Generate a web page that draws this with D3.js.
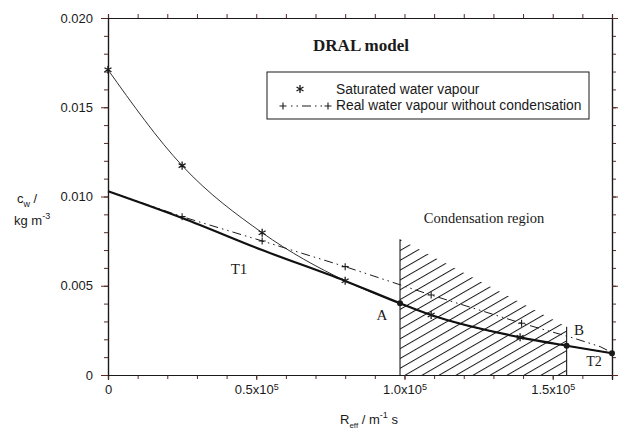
<!DOCTYPE html>
<html>
<head>
<meta charset="utf-8">
<script src="https://cdn.jsdelivr.net/npm/d3@7"></script>
<style>
	body { margin: 0; background: #fff; }
	text { fill: #1a1a1a; }
	.sans { font-family: "Liberation Sans", Arial, sans-serif; }
	.serif { font-family: "Liberation Serif", "Times New Roman", serif; }
</style>
</head>
<body>
<div id="chart"></div>
<script>
// values (x in units of 1e5 m^-1 s, y in kg m^-3)
var satX = [0, 0.25, 0.52, 0.80, 0.985, 1.09, 1.39, 1.547, 1.70];
var satY = [0.0171, 0.01173, 0.00797, 0.00528, 0.00402, 0.00336, 0.00211, 0.00164, 0.00122];
var satStars = [0, 1, 2, 3, 5, 6];      // asterisk markers
var satDots = [4, 7, 8];                // A, B and end point

var realX = [0, 0.25, 0.52, 0.80, 1.09, 1.395, 1.57, 1.66, 1.70];
var realY = [0.0103, 0.00887, 0.00751, 0.00607, 0.00448, 0.0029, 0.00207, 0.00159, 0.00125];
var realPlus = [1, 2, 3, 4, 5];

var thickX = [0, 0.25, 0.52, 0.80, 0.985, 1.09, 1.39, 1.547, 1.70];
var thickY = [0.0103, 0.0088, 0.0070, 0.00527, 0.00402, 0.00336, 0.00211, 0.00164, 0.00122];

var hatchX = [0.985, 1.547];
var hatchTop = [0.0076, 0.0027];

var xMajor = [0, 0.5, 1.0, 1.5];
var xTickLabels = ['0', '0.5x10', '1.0x10', '1.5x10'];
var xTickExp = ['', '5', '5', '5'];
var yMajor = [0, 0.005, 0.010, 0.015, 0.020];
var yTickLabels = ['0', '0.005', '0.010', '0.015', '0.020'];

var legendLabels = ['Saturated water vapour', 'Real water vapour without condensation'];

// Chart
var width = 623, height = 431;
var svg = d3.select('#chart').append('svg')
	.attr('width', width)
	.attr('height', height);

var x = d3.scaleLinear().domain([0, 1.70]).range([108, 612]);
var y = d3.scaleLinear().domain([0, 0.020]).range([375, 18]);

var ink = '#1a1a1a';
var tickInk = '#5a2a22';

// hatch pattern for condensation region
var defs = svg.append('defs');
defs.append('pattern')
	.attr('id', 'hatch')
	.attr('patternUnits', 'userSpaceOnUse')
	.attr('width', 10).attr('height', 8.5)
	.attr('patternTransform', 'rotate(-30)')
  .append('line')
	.attr('x1', 0).attr('x2', 10)
	.attr('y1', 0.5).attr('y2', 0.5)
	.attr('stroke', ink).attr('stroke-width', 1);

svg.append('path')
	.attr('d', 'M' + x(hatchX[0]) + ',' + y(0) + 'L' + x(hatchX[0]) + ',' + y(hatchTop[0]) +
		'L' + x(hatchX[1]) + ',' + y(hatchTop[1]) + 'L' + x(hatchX[1]) + ',' + y(0) + 'Z')
	.attr('fill', 'url(#hatch)');

hatchX.forEach(function(hx, i) {
	svg.append('line')
		.attr('x1', x(hx)).attr('x2', x(hx))
		.attr('y1', y(0)).attr('y2', y(hatchTop[i]))
		.attr('stroke', ink).attr('stroke-width', 1.1);
});

// axes, outward ticks on all four sides
function minor(lo, hi, step) {
	return d3.range(Math.round((hi - lo) / step) + 1).map(function(i) { return lo + i * step; });
}
var xMinor = minor(0, 1.7, 0.1);
var yMinor = minor(0, 0.020, 0.001);

function styleAxis(g) {
	g.select('.domain').attr('stroke', ink).attr('stroke-width', 1.2);
	g.selectAll('.tick line').attr('stroke', tickInk).attr('stroke-width', 1);
	g.selectAll('text').attr('class', 'sans').attr('font-size', 13).attr('fill', ink);
}

svg.append('g').attr('transform', 'translate(0,' + y(0) + ')')
	.call(d3.axisBottom(x).tickValues(xMinor).tickSize(4).tickFormat(''))
	.call(styleAxis);
var xAxis = svg.append('g').attr('transform', 'translate(0,' + y(0) + ')')
	.call(d3.axisBottom(x).tickValues(xMajor).tickSize(5).tickPadding(5)
		.tickFormat(function(d, i) { return xTickLabels[i]; }))
	.call(styleAxis);
xAxis.selectAll('.tick text').each(function(d, i) {
	if (xTickExp[i]) {
		d3.select(this).append('tspan')
			.attr('dy', '-0.45em')
			.attr('font-size', 9)
			.text(xTickExp[i]);
	}
});

svg.append('g').attr('transform', 'translate(0,' + y(0.020) + ')')
	.call(d3.axisTop(x).tickValues(xMinor).tickSize(4).tickFormat(''))
	.call(styleAxis);

svg.append('g').attr('transform', 'translate(' + x(0) + ',0)')
	.call(d3.axisLeft(y).tickValues(yMinor).tickSize(4).tickFormat(''))
	.call(styleAxis);
svg.append('g').attr('transform', 'translate(' + x(0) + ',0)')
	.call(d3.axisLeft(y).tickValues(yMajor).tickSize(7).tickPadding(8)
		.tickFormat(function(d, i) { return yTickLabels[i]; }))
	.call(styleAxis);

svg.append('g').attr('transform', 'translate(' + x(1.70) + ',0)')
	.call(d3.axisRight(y).tickValues(yMinor).tickSize(4).tickFormat(''))
	.call(styleAxis);
svg.append('g').attr('transform', 'translate(' + x(1.70) + ',0)')
	.call(d3.axisRight(y).tickValues(yMajor).tickSize(6).tickFormat(''))
	.call(styleAxis);

// lines
function zipped(xs, ys) {
	return xs.map(function(v, i) { return [v, ys[i]]; });
}
var lineLin = d3.line().x(function(d) { return x(d[0]); }).y(function(d) { return y(d[1]); });
var lineSmooth = d3.line().curve(d3.curveMonotoneX)
	.x(function(d) { return x(d[0]); }).y(function(d) { return y(d[1]); });

svg.append('path')
	.datum(zipped(realX, realY))
	.attr('d', lineLin)
	.attr('fill', 'none')
	.attr('stroke', ink)
	.attr('stroke-width', 1)
	.attr('stroke-dasharray', '1.5,4,1.5,4,9,4');

svg.append('path')
	.datum(zipped(satX, satY))
	.attr('d', lineSmooth)
	.attr('fill', 'none')
	.attr('stroke', '#333')
	.attr('stroke-width', 1);

svg.append('path')
	.datum(zipped(thickX, thickY))
	.attr('d', lineSmooth)
	.attr('fill', 'none')
	.attr('stroke', '#111')
	.attr('stroke-width', 2.2);

// markers
var star = d3.symbol().type(d3.symbolAsterisk).size(45);
var plus = d3.symbol().type(d3.symbolPlus).size(18);

svg.selectAll('.star')
	.data(satStars)
	.enter().append('path')
	  .attr('class', 'star')
	  .attr('d', star)
	  .attr('transform', function(i) { return 'translate(' + x(satX[i]) + ',' + y(satY[i]) + ')'; })
	  .attr('fill', 'none').attr('stroke', ink).attr('stroke-width', 1.3);

svg.selectAll('.dot')
	.data(satDots)
	.enter().append('circle')
	  .attr('class', 'dot')
	  .attr('cx', function(i) { return x(satX[i]); })
	  .attr('cy', function(i) { return y(satY[i]); })
	  .attr('r', 3)
	  .attr('fill', ink);

svg.selectAll('.plus')
	.data(realPlus)
	.enter().append('path')
	  .attr('class', 'plus')
	  .attr('d', plus)
	  .attr('transform', function(i) { return 'translate(' + x(realX[i]) + ',' + y(realY[i]) + ')'; })
	  .attr('fill', 'none').attr('stroke', ink).attr('stroke-width', 1.1);

// titles and annotations
svg.append('text').attr('class', 'serif')
	.attr('x', 361).attr('y', 51)
	.attr('text-anchor', 'middle')
	.attr('font-size', 17).attr('font-weight', 'bold')
	.text('DRAL model');

svg.append('text').attr('class', 'serif')
	.attr('x', 484).attr('y', 223)
	.attr('text-anchor', 'middle')
	.attr('font-size', 14.5)
	.text('Condensation region');

var notes = [
	{t: 'T1', x: 239, y: 274, s: 15},
	{t: 'A', x: 382, y: 320, s: 15},
	{t: 'B', x: 579, y: 335, s: 15},
	{t: 'T2', x: 594, y: 366, s: 14}
];
svg.selectAll('.note')
	.data(notes)
	.enter().append('text')
	  .attr('class', 'serif')
	  .attr('x', function(d) { return d.x; })
	  .attr('y', function(d) { return d.y; })
	  .attr('text-anchor', 'middle')
	  .attr('font-size', function(d) { return d.s; })
	  .text(function(d) { return d.t; });

// legend
var legend = svg.append('g');
legend.append('rect')
	.attr('x', 267).attr('y', 72)
	.attr('width', 322).attr('height', 47)
	.attr('fill', '#fff')
	.attr('stroke', ink).attr('stroke-width', 1);
legend.append('path')
	.attr('d', star)
	.attr('transform', 'translate(300,89)')
	.attr('fill', 'none').attr('stroke', ink).attr('stroke-width', 1.3);
legend.append('line')
	.attr('x1', 287).attr('x2', 324)
	.attr('y1', 106).attr('y2', 106)
	.attr('stroke', ink).attr('stroke-width', 1)
	.attr('stroke-dasharray', '1.5,4,1.5,4,9,4')
	.attr('stroke-dashoffset', -4);
[283, 328].forEach(function(px) {
	legend.append('path')
		.attr('d', plus)
		.attr('transform', 'translate(' + px + ',106)')
		.attr('fill', 'none').attr('stroke', ink).attr('stroke-width', 1.1);
});
legendLabels.forEach(function(l, i) {
	legend.append('text').attr('class', 'sans')
		.attr('x', 336).attr('y', 94 + i * 16)
		.attr('font-size', 13.8)
		.text(l);
});

// axis titles
var yl = svg.append('text').attr('class', 'sans').attr('font-size', 13).attr('x', 17).attr('y', 203);
yl.append('tspan').text('c');
yl.append('tspan').attr('dy', 4).attr('font-size', 9).text('w');
yl.append('tspan').attr('dy', -4).text(' /');
var yl2 = svg.append('text').attr('class', 'sans').attr('font-size', 13).attr('x', 14).attr('y', 225);
yl2.append('tspan').text('kg m');
yl2.append('tspan').attr('dy', -6).attr('font-size', 9).text('-3');

var xl = svg.append('text').attr('class', 'sans').attr('font-size', 13).attr('x', 340).attr('y', 424);
xl.append('tspan').text('R');
xl.append('tspan').attr('dy', 4).attr('font-size', 8).text('eff');
xl.append('tspan').attr('dy', -4).text(' / m');
xl.append('tspan').attr('dy', -6).attr('font-size', 9).text('-1');
xl.append('tspan').attr('dy', 6).text(' s');
</script>
</body>
</html>
